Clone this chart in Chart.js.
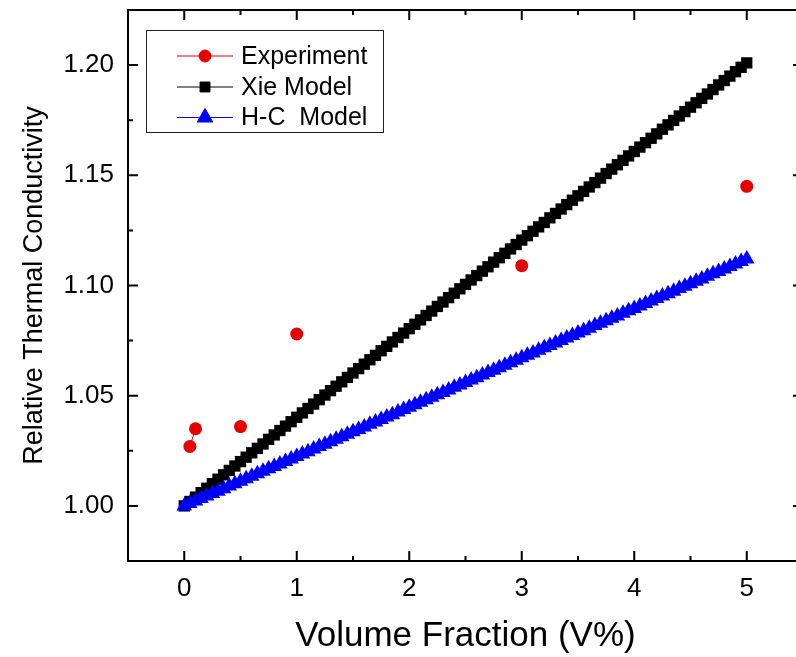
<!DOCTYPE html>
<html>
<head>
<meta charset="utf-8">
<script src="https://cdn.jsdelivr.net/npm/chart.js@4.4.1/dist/chart.umd.min.js"></script>
<style>
  html, body { margin: 0; padding: 0; background: #fff; overflow: hidden; width: 796px; height: 657px; }
  canvas { display: block; }
</style>
</head>
<body>
<canvas id="c" width="812" height="657"></canvas>
<script>
// ---- data ----
const expX = [0.05, 0.1, 0.5, 1, 3, 5];
const expY = [1.027, 1.035, 1.036, 1.078, 1.109, 1.145];

const modelX = [
  0, 0.05, 0.1, 0.15, 0.2, 0.25, 0.3, 0.35, 0.4, 0.45,
  0.5, 0.55, 0.6, 0.65, 0.7, 0.75, 0.8, 0.85, 0.9, 0.95,
  1, 1.05, 1.1, 1.15, 1.2, 1.25, 1.3, 1.35, 1.4, 1.45,
  1.5, 1.55, 1.6, 1.65, 1.7, 1.75, 1.8, 1.85, 1.9, 1.95,
  2, 2.05, 2.1, 2.15, 2.2, 2.25, 2.3, 2.35, 2.4, 2.45,
  2.5, 2.55, 2.6, 2.65, 2.7, 2.75, 2.8, 2.85, 2.9, 2.95,
  3, 3.05, 3.1, 3.15, 3.2, 3.25, 3.3, 3.35, 3.4, 3.45,
  3.5, 3.55, 3.6, 3.65, 3.7, 3.75, 3.8, 3.85, 3.9, 3.95,
  4, 4.05, 4.1, 4.15, 4.2, 4.25, 4.3, 4.35, 4.4, 4.45,
  4.5, 4.55, 4.6, 4.65, 4.7, 4.75, 4.8, 4.85, 4.9, 4.95,
  5
];
const xieY = [
  1.0000, 1.0020, 1.0040, 1.0060, 1.0080, 1.0101, 1.0121, 1.0141, 1.0161, 1.0181,
  1.0201, 1.0221, 1.0241, 1.0261, 1.0281, 1.0302, 1.0322, 1.0342, 1.0362, 1.0382,
  1.0402, 1.0422, 1.0442, 1.0462, 1.0482, 1.0503, 1.0523, 1.0543, 1.0563, 1.0583,
  1.0603, 1.0623, 1.0643, 1.0663, 1.0683, 1.0704, 1.0724, 1.0744, 1.0764, 1.0784,
  1.0804, 1.0824, 1.0844, 1.0864, 1.0884, 1.0905, 1.0925, 1.0945, 1.0965, 1.0985,
  1.1005, 1.1025, 1.1045, 1.1065, 1.1085, 1.1106, 1.1126, 1.1146, 1.1166, 1.1186,
  1.1206, 1.1226, 1.1246, 1.1266, 1.1286, 1.1307, 1.1327, 1.1347, 1.1367, 1.1387,
  1.1407, 1.1427, 1.1447, 1.1467, 1.1487, 1.1508, 1.1528, 1.1548, 1.1568, 1.1588,
  1.1608, 1.1628, 1.1648, 1.1668, 1.1688, 1.1709, 1.1729, 1.1749, 1.1769, 1.1789,
  1.1809, 1.1829, 1.1849, 1.1869, 1.1889, 1.1910, 1.1930, 1.1950, 1.1970, 1.1990,
  1.2010
];
const hcY = [
  1.0000, 1.0011, 1.0022, 1.0034, 1.0045, 1.0056, 1.0067, 1.0078, 1.0090, 1.0101,
  1.0112, 1.0123, 1.0134, 1.0146, 1.0157, 1.0168, 1.0179, 1.0190, 1.0202, 1.0213,
  1.0224, 1.0235, 1.0246, 1.0258, 1.0269, 1.0280, 1.0291, 1.0302, 1.0314, 1.0325,
  1.0336, 1.0347, 1.0358, 1.0370, 1.0381, 1.0392, 1.0403, 1.0414, 1.0426, 1.0437,
  1.0448, 1.0459, 1.0470, 1.0482, 1.0493, 1.0504, 1.0515, 1.0526, 1.0538, 1.0549,
  1.0560, 1.0571, 1.0582, 1.0594, 1.0605, 1.0616, 1.0627, 1.0638, 1.0650, 1.0661,
  1.0672, 1.0683, 1.0694, 1.0706, 1.0717, 1.0728, 1.0739, 1.0750, 1.0762, 1.0773,
  1.0784, 1.0795, 1.0806, 1.0818, 1.0829, 1.0840, 1.0851, 1.0862, 1.0874, 1.0885,
  1.0896, 1.0907, 1.0918, 1.0930, 1.0941, 1.0952, 1.0963, 1.0974, 1.0986, 1.0997,
  1.1008, 1.1019, 1.1030, 1.1042, 1.1053, 1.1064, 1.1075, 1.1086, 1.1098, 1.1109,
  1.1120
];

const seriesNames = ['Experiment', 'Xie Model', 'H-C  Model'];
const xTicks = [0, 1, 2, 3, 4, 5];
const xMinorTicks = [-0.5, 0.5, 1.5, 2.5, 3.5, 4.5, 5.5];
const yTicks = [1.00, 1.05, 1.10, 1.15, 1.20];
const yMinorTicks = [0.975, 1.025, 1.075, 1.125, 1.175, 1.225];

const FONT = "'Liberation Sans', Arial, Helvetica, sans-serif";

const pts = (xs, ys) => xs.map((x, i) => ({ x: x, y: ys[i] }));

// frame & inward ticks & legend
const framePlugin = {
  id: 'frame',
  beforeDraw(chart) {
    const ctx = chart.ctx;
    ctx.save();
    ctx.fillStyle = '#fff';
    ctx.fillRect(0, 0, chart.width, chart.height);
    ctx.restore();
  },
  afterDraw(chart) {
    const { ctx, chartArea: a, scales: { x, y } } = chart;
    ctx.save();
    ctx.strokeStyle = '#000';
    ctx.lineWidth = 2;
    ctx.strokeRect(a.left, a.top, a.right - a.left, a.bottom - a.top);
    ctx.beginPath();
    const tick = (x1, y1, x2, y2) => { ctx.moveTo(x1, y1); ctx.lineTo(x2, y2); };
    xTicks.forEach(v => { const p = x.getPixelForValue(v); tick(p, a.bottom, p, a.bottom - 10); tick(p, a.top, p, a.top + 10); });
    xMinorTicks.forEach(v => { const p = x.getPixelForValue(v); tick(p, a.bottom, p, a.bottom - 5); tick(p, a.top, p, a.top + 5); });
    yTicks.forEach(v => { const p = y.getPixelForValue(v); tick(a.left, p, a.left + 10, p); tick(a.right, p, a.right - 10, p); });
    yMinorTicks.forEach(v => { const p = y.getPixelForValue(v); tick(a.left, p, a.left + 5, p); tick(a.right, p, a.right - 5, p); });
    ctx.stroke();

    // legend
    const bx = 146, by = 30, bw = 237, bh = 102;
    ctx.lineWidth = 1;
    ctx.strokeStyle = '#222';
    ctx.strokeRect(bx + 0.5, by + 0.5, bw, bh);
    const rows = [56, 87, 117.5];
    chart.data.datasets.forEach((ds, i) => {
      const yy = rows[i];
      ctx.strokeStyle = ds.borderColor;
      ctx.lineWidth = 1;
      ctx.beginPath(); ctx.moveTo(177, yy); ctx.lineTo(233, yy); ctx.stroke();
      ctx.fillStyle = ds.pointBackgroundColor;
      ctx.strokeStyle = ds.pointBorderColor;
      Chart.helpers.drawPoint(ctx, { pointStyle: ds.pointStyle, radius: ds.legendRadius, rotation: 0, borderWidth: 1 }, 205, yy);
      ctx.fillStyle = '#000';
      ctx.font = '25px ' + FONT;
      ctx.textBaseline = 'middle';
      ctx.textAlign = 'left';
      ctx.fillText(ds.label, 241, yy + 1);
    });
    ctx.restore();
  }
};

const noPad = s => { s.paddingTop = 0; s.paddingBottom = 0; s.paddingLeft = 0; s.paddingRight = 0; };

new Chart(document.getElementById('c'), {
  type: 'scatter',
  data: {
    datasets: [
      {
        label: seriesNames[0],
        data: pts(expX, expY),
        showLine: true,
        borderColor: '#e60000',
        borderWidth: 1,
        segment: { borderColor: c => c.p0DataIndex === 0 ? '#e60000' : 'rgba(0,0,0,0)' },
        pointStyle: 'circle',
        pointRadius: 6.5,
        legendRadius: 6,
        pointBackgroundColor: '#e60000',
        pointBorderColor: '#e60000',
        pointBorderWidth: 0,
        order: 0
      },
      {
        label: seriesNames[1],
        data: pts(modelX, xieY),
        showLine: true,
        borderColor: '#000',
        borderWidth: 1,
        pointStyle: 'rect',
        pointRadius: 8,
        legendRadius: 7,
        pointBackgroundColor: '#000',
        pointBorderColor: '#000',
        pointBorderWidth: 0,
        order: 2
      },
      {
        label: seriesNames[2],
        data: pts(modelX, hcY),
        showLine: true,
        borderColor: '#0000ff',
        borderWidth: 1,
        pointStyle: 'triangle',
        pointRadius: 9,
        legendRadius: 9,
        pointBackgroundColor: '#0000ff',
        pointBorderColor: '#0000ff',
        pointBorderWidth: 0,
        order: 1
      }
    ]
  },
  options: {
    responsive: false,
    animation: false,
    devicePixelRatio: 1,
    layout: { padding: { left: 0, right: 5, top: 10, bottom: 0 } },
    plugins: { legend: { display: false }, tooltip: { enabled: false } },
    scales: {
      x: {
        type: 'linear',
        min: -0.5, max: 5.5,
        afterBuildTicks: s => { s.ticks = xTicks.map(v => ({ value: v })); },
        afterFit: s => { s.height = 96; noPad(s); },
        grid: { display: false, drawTicks: false },
        border: { display: false },
        ticks: {
          autoSkip: false, maxRotation: 0, padding: 12,
          color: '#000', font: { family: FONT, size: 26 },
          callback: v => String(v)
        },
        title: {
          display: true, text: 'Volume Fraction (V%)', color: '#000',
          font: { family: FONT, size: 35 }, padding: { top: 0, bottom: 0 }
        }
      },
      y: {
        type: 'linear',
        min: 0.975, max: 1.225,
        afterBuildTicks: s => { s.ticks = yTicks.map(v => ({ value: v })); },
        afterFit: s => { s.width = 128; noPad(s); },
        grid: { display: false, drawTicks: false },
        border: { display: false },
        ticks: {
          autoSkip: false, padding: 14,
          color: '#000', font: { family: FONT, size: 26 },
          callback: v => v.toFixed(2)
        },
        title: {
          display: true, text: 'Relative Thermal Conductivity', color: '#000',
          font: { family: FONT, size: 27 }, padding: { top: 18, bottom: 0 }
        }
      }
    }
  },
  plugins: [framePlugin]
});
</script>
</body>
</html>
